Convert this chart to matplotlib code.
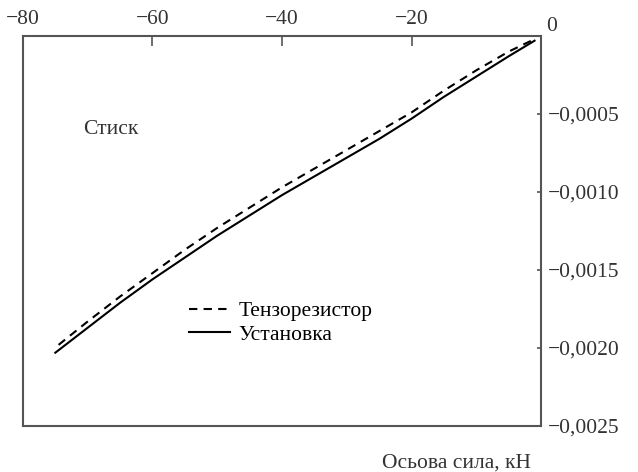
import matplotlib
matplotlib.use("Agg")
import matplotlib.pyplot as plt
import matplotlib.transforms as mtransforms

# axial force (kN) against strain, compression branch
forceGauge = [-74.5, -70, -65, -60, -55, -50, -45, -40, -35, -30, -25, -20, -15, -10, -5, -1]
strainGauge = [-0.00198, -0.00183, -0.00167, -0.00152, -0.00137, -0.00123, -0.00110, -0.00097,
               -0.00085, -0.00073, -0.00061, -0.00049, -0.00035, -0.00022, -0.00010, -0.00002]
forceRig = [-75, -70, -65, -60, -55, -50, -45, -40, -35, -30, -25, -20, -15, -10, -5, -1]
strainRig = [-0.00203, -0.00187, -0.00171, -0.00156, -0.00142, -0.00128, -0.00115, -0.00102,
             -0.00090, -0.00078, -0.00066, -0.00053, -0.00039, -0.00026, -0.00013, -0.00003]

xTicks = [-80, -60, -40, -20]
yTicks = [-0.0005, -0.0010, -0.0015, -0.0020, -0.0025]
yTickLabels = ["\u22120,0005", "\u22120,0010", "\u22120,0015", "\u22120,0020", "\u22120,0025"]

plt.rcParams['font.family'] = ['Liberation Serif', 'DejaVu Serif']
plt.rcParams['font.size'] = 15.5
plt.rcParams['axes.unicode_minus'] = True

fig = plt.figure(figsize=(6.38, 4.72), dpi=100)
ax = fig.add_axes([0.036, 0.0975, 0.812, 0.8262])

line1, = ax.plot(forceGauge, strainGauge, color='black', lw=1.5, label='Тензорезистор')
line1.set_dashes((4, 3))
ax.plot(forceRig, strainRig, color='black', lw=1.5, label='Установка')

ax.set_xlim(-80, 0)
ax.set_ylim(-0.0025, 0)

ax.xaxis.tick_top()
ax.set_xticks(xTicks)
ax.set_xticklabels(["\u221280", "\u221260", "\u221240", "\u221220"])
ax.yaxis.tick_right()
ax.set_yticks(yTicks)
ax.set_yticklabels(yTickLabels)
ax.tick_params(axis='x', direction='in', length=7, width=1.2, color='#555555', pad=5)
ax.tick_params(axis='y', direction='in', length=3, width=1.2, color='#555555', pad=5)

for s in ax.spines.values():
    s.set_color('#555555')
    s.set_linewidth(1.5)

# the shared zero at the top right corner
trans = mtransforms.offset_copy(ax.transAxes, fig=fig, x=11, y=0, units='dots')
ax.text(1.0, 1.0, "0", transform=trans, ha='center', va='bottom', color='#333333')
ax.text(-66.5, -0.0006, "Стиск", ha='center', va='center', color='#333333')

ax.text(0.98, -0.07, "Осьова сила, кН", transform=ax.transAxes, ha='right', va='top', color='#333333')

ax.legend(loc='upper left', bbox_to_anchor=(0.32, 0.32), frameon=False,
          handlelength=1.9, handletextpad=0.4, labelspacing=0.15, borderpad=0, borderaxespad=0)

for lbl in ax.get_xticklabels() + ax.get_yticklabels():
    lbl.set_color('#333333')

fig.savefig("out.png", dpi=100)
